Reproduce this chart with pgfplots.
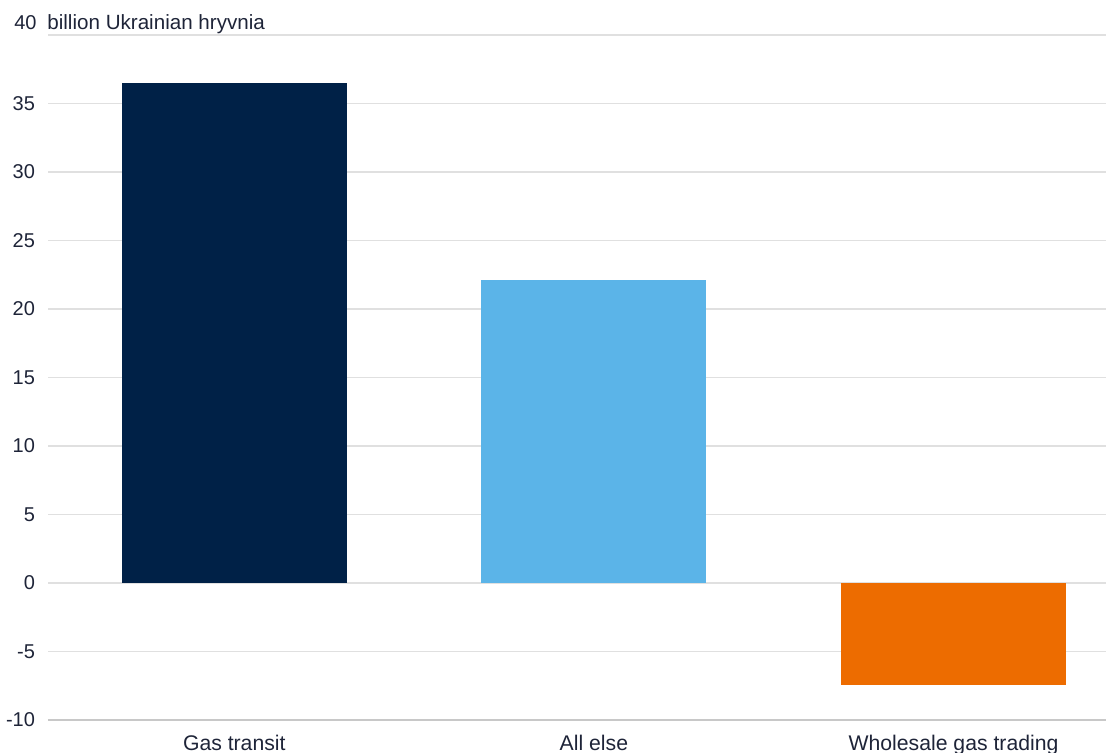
\documentclass[border=0pt]{standalone}
\usepackage{pgfplots}
\pgfplotsset{compat=1.18}
\usepackage{fontspec}
\setmainfont{Liberation Sans}
\definecolor{navy}{RGB}{0,33,71}
\definecolor{lblue}{RGB}{91,180,232}
\definecolor{orng}{RGB}{237,108,0}
\definecolor{txt}{RGB}{30,36,56}
\definecolor{gridc}{RGB}{224,224,224}
\definecolor{basec}{RGB}{200,200,200}
\begin{document}
\begin{tikzpicture}
\begin{axis}[
  scale only axis,
  width=529pt, height=342.5pt,
  at={(0,0)}, anchor=south west,
  xmin=-0.518, xmax=2.424,
  ymin=-10, ymax=40,
  ytick={-10,-5,0,5,10,15,20,25,30,35,40},
  yticklabels={-10,-5,0,5,10,15,20,25,30,35,},
  xtick={0,1,2},
  xticklabels={Gas transit,All else,Wholesale gas trading},
  axis line style={draw=none},
  tick style={draw=none},
  xmajorgrids=false,
  ymajorgrids=true,
  y grid style={draw=gridc, line width=0.7pt},
  /pgf/number format/assume math mode=true,
  tick label style={font=\fontsize{10}{12}\selectfont, text=txt},
  yticklabel style={anchor=east, xshift=-3pt},
  xticklabel style={anchor=north, yshift=-4pt, font=\fontsize{10.6}{12}\selectfont},
  clip=false,
]
\draw[basec, line width=0.7pt] (rel axis cs:0,0) -- (rel axis cs:1,0);
\addplot[ybar, bar width=0.626, fill=navy, draw=none] coordinates {(0,36.5)};
\addplot[ybar, bar width=0.626, fill=lblue, draw=none] coordinates {(1,22.1)};
\addplot[ybar, bar width=0.626, fill=orng, draw=none] coordinates {(2,-7.42)};
\node[anchor=base east, text=txt, font=\fontsize{10}{12}\selectfont, inner sep=0pt] at ([xshift=-5.5pt,yshift=2.5pt]rel axis cs:0,1) {40};
\node[anchor=base west, text=txt, font=\fontsize{10.3}{12}\selectfont, inner sep=0pt] at ([xshift=-0.5pt,yshift=2.5pt]rel axis cs:0,1) {billion Ukrainian hryvnia};
\end{axis}
\pgfresetboundingbox
\path[use as bounding box] (-24pt,-16.5pt) rectangle (529pt,360pt);
\end{tikzpicture}
\end{document}
